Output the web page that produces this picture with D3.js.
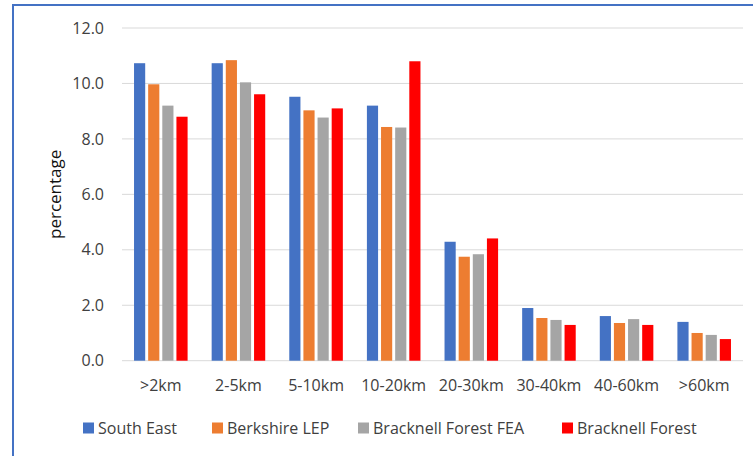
<!DOCTYPE html>
<html><head><meta charset="utf-8">
<script src="https://cdn.jsdelivr.net/npm/d3@7"></script>
<style>body{margin:0;background:#fff}svg{display:block}text{font-family:"Open Sans","Noto Sans",sans-serif;fill:#404040}</style>
</head><body><svg id="c" width="753" height="456"></svg>
<script>
const categories = [">2km","2-5km","5-10km","10-20km","20-30km","30-40km","40-60km",">60km"];
const seriesNames = ["South East","Berkshire LEP","Bracknell Forest FEA","Bracknell Forest"];
const southEast = [10.73,10.73,9.52,9.20,4.29,1.90,1.61,1.40];
const berkshireLEP = [9.97,10.84,9.03,8.43,3.75,1.54,1.36,1.00];
const bracknellFEA = [9.20,10.04,8.77,8.41,3.84,1.47,1.50,0.93];
const bracknellForest = [8.80,9.61,9.10,10.80,4.41,1.29,1.29,0.78];
const yTicks = [0,2,4,6,8,10,12];
const colors = ["#4472C4","#ED7D31","#A5A5A5","#FF0000"];
const seriesValues = [southEast,berkshireLEP,bracknellFEA,bracknellForest];

const svg = d3.select("#c");
svg.append("rect").attr("x",13).attr("y",5).attr("width",745).attr("height",460)
  .attr("fill","#fff").attr("stroke","#4472C4").attr("stroke-width",2);

const L=122,R=743,T=28,B=360.7;
const x = d3.scaleBand().domain(categories).range([L,R]).paddingInner(0.31).paddingOuter(0.155);
const xs = d3.scaleBand().domain(seriesNames).range([0,x.bandwidth()]).paddingInner(0.21);
const y = d3.scaleLinear().domain([0,12]).range([B,T]);

svg.append("g").selectAll("line").data(yTicks).join("line")
  .attr("x1",L).attr("x2",R).attr("y1",d=>y(d)).attr("y2",d=>y(d))
  .attr("stroke","#d9d9d9").attr("stroke-width",1);

const font = "'Open Sans','Noto Sans',sans-serif";
const yAxis = svg.append("g").attr("transform",`translate(${L},0)`)
  .call(d3.axisLeft(y).tickValues(yTicks).tickFormat(d3.format(".1f")).tickSize(0).tickPadding(18));
yAxis.select(".domain").remove();
yAxis.selectAll("text").style("font-size","16px").attr("fill","#404040").style("font-family",font);

const xAxis = svg.append("g").attr("transform",`translate(0,${B})`)
  .call(d3.axisBottom(x).tickSize(0).tickPadding(19));
xAxis.select(".domain").remove();
xAxis.selectAll("text").style("font-size","16px").attr("fill","#404040").style("font-family",font);

const groups = svg.append("g").selectAll("g").data(categories).join("g")
  .attr("transform",c=>`translate(${x(c)},0)`);
groups.selectAll("rect").data((c,i)=>seriesNames.map((s,j)=>({s,v:seriesValues[j][i],j})))
  .join("rect")
  .attr("x",d=>xs(d.s)).attr("width",xs.bandwidth())
  .attr("y",d=>y(d.v)).attr("height",d=>B-y(d.v))
  .attr("fill",d=>colors[d.j]);

svg.append("text").attr("transform",`translate(61,${(T+B)/2}) rotate(-90)`)
  .attr("text-anchor","middle").style("font-size","17px").style("fill","#111").text("percentage");

const legendX=[83,212,358,562];
const lg = svg.append("g").selectAll("g").data(seriesNames).join("g")
  .attr("transform",(d,i)=>`translate(${legendX[i]},428)`);
lg.append("rect").attr("x",0).attr("y",-5.5).attr("width",11).attr("height",11).attr("fill",(d,i)=>colors[i]);
lg.append("text").attr("x",15).attr("y",0).attr("dy","0.35em").style("font-size","16px").text(d=>d);
</script></body></html>
